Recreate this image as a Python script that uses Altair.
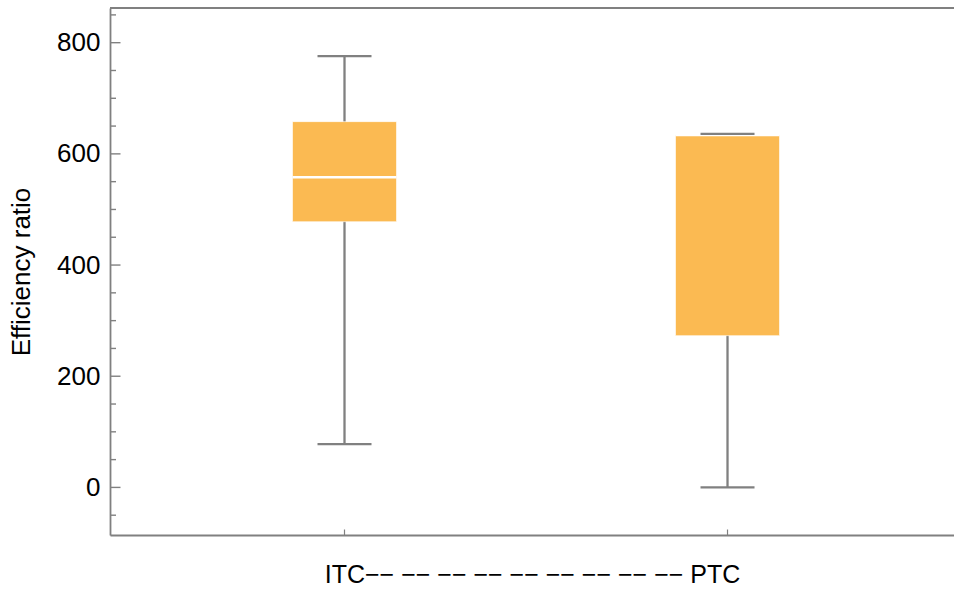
import altair as alt
import pandas as pd

# Box-and-whisker summary for each treatment
categories = ["ITC", "PTC"]
whisker_low = [78, 0]
q1 = [478, 273]
median = [558, 634]
q3 = [658, 634]
whisker_high = [776, 636]

# Frame tick values on the left edge
major_ticks = [0, 200, 400, 600, 800]
minor_ticks = [-50, 50, 100, 150, 250, 300, 350, 450, 500, 550, 650, 700, 750, 850]

x_title = "ITC" + " ".join(["\u2212\u2212"] * 9) + " PTC"

W, H = 844, 527
FONT = "Liberation Sans"
GRAY = "#808080"
BOX = "#FBBA52"

df = pd.DataFrame({
    "group": categories,
    "lo": whisker_low,
    "q1": q1,
    "med": median,
    "q3": q3,
    "hi": whisker_high,
})
major_df = pd.DataFrame({"v": major_ticks})
minor_df = pd.DataFrame({"v": minor_ticks})

y_scale = alt.Scale(domain=[-85.6, 862.4], nice=False, zero=False)
x_scale = alt.Scale(type="point", padding=0.6018, align=0.5087)

x_enc = alt.X(
    "group:N",
    scale=x_scale,
    sort=categories,
    axis=alt.Axis(
        title=x_title,
        labels=False,
        ticks=False,
        domainColor=GRAY,
        domainWidth=1.8,
        titleFont=FONT,
        titleFontSize=25,
        titleFontWeight="normal",
        titleColor="black",
        titlePadding=27,
    ),
)
y_axis = alt.Axis(
    title="Efficiency ratio",
    values=major_ticks,
    ticks=False,
    tickSize=0,
    grid=False,
    domainColor=GRAY,
    domainWidth=1.8,
    labelFont=FONT,
    labelFontSize=26,
    labelColor="black",
    labelPadding=10,
    titleFont=FONT,
    titleFontSize=26,
    titleFontWeight="normal",
    titleColor="black",
    titlePadding=22,
)

base = alt.Chart(df)

whiskers = base.mark_rule(color=GRAY, strokeWidth=2.3).encode(
    x=x_enc,
    y=alt.Y("lo:Q", scale=y_scale, axis=y_axis),
    y2="hi:Q",
)
boxes = base.mark_bar(
    size=104, fill=BOX, stroke="white", strokeOpacity=0.6, strokeWidth=1
).encode(x=alt.X("group:N", sort=categories), y="q1:Q", y2="q3:Q")
medians = base.mark_tick(size=104, thickness=2.5, color="white", opacity=1).encode(
    x=alt.X("group:N", sort=categories), y="med:Q"
)
caps_hi = base.mark_tick(size=54, thickness=2.3, color=GRAY, opacity=1).encode(
    x=alt.X("group:N", sort=categories), y="hi:Q"
)
caps_lo = base.mark_tick(size=54, thickness=2.3, color=GRAY, opacity=1).encode(
    x=alt.X("group:N", sort=categories), y="lo:Q"
)

# Inward-facing frame ticks
major_rules = alt.Chart(major_df).mark_rule(color=GRAY, strokeWidth=1.4).encode(
    y="v:Q", x=alt.value(0), x2=alt.value(10.5)
)
minor_rules = alt.Chart(minor_df).mark_rule(color=GRAY, strokeWidth=1.4).encode(
    y="v:Q", x=alt.value(0), x2=alt.value(6)
)
bottom_ticks = base.mark_rule(color=GRAY, strokeWidth=1.2).encode(
    x=alt.X("group:N", sort=categories), y=alt.value(H - 5.5), y2=alt.value(H)
)
top_edge = base.mark_rule(color=GRAY, strokeWidth=1.8).encode(
    x=alt.value(0), x2=alt.value(W), y=alt.value(0)
)

chart = alt.layer(
    whiskers, boxes, medians, caps_hi, caps_lo,
    major_rules, minor_rules, bottom_ticks, top_edge,
).properties(
    width=W,
    height=H,
    padding={"left": 110, "top": 8, "right": 0, "bottom": 55},
    autosize=alt.AutoSizeParams(type="none"),
).configure_view(stroke=None).configure(background="white")

chart.save("out.html", embed_options={"renderer": "svg", "actions": False})
